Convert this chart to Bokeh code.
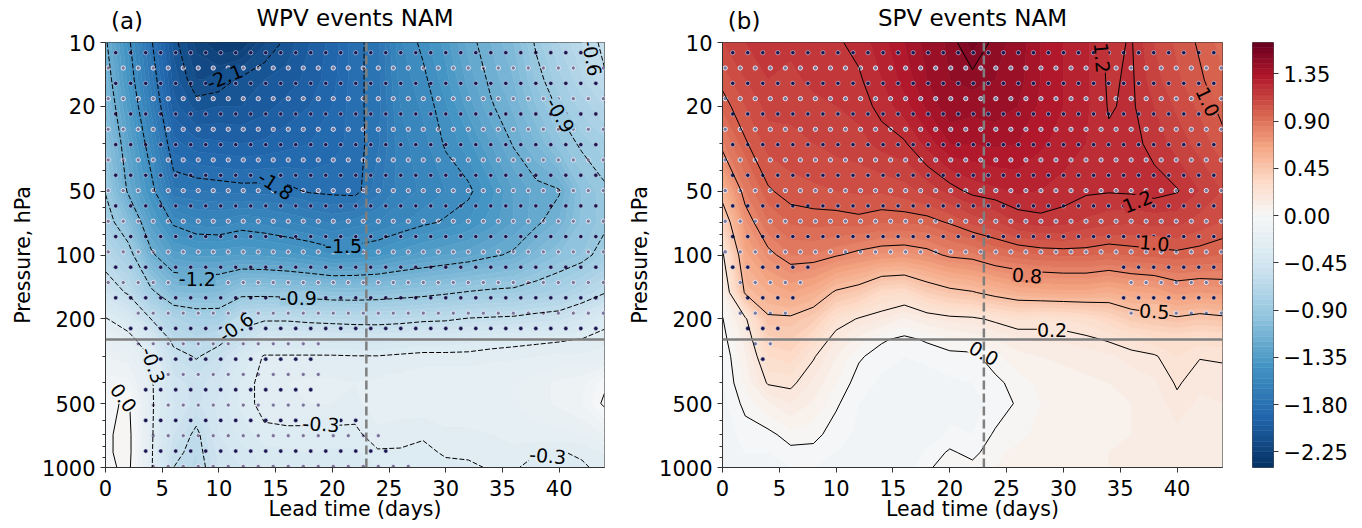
import numpy as np
from bokeh.plotting import figure
from bokeh.plotting.contour import contour_data
from bokeh.layouts import row
from bokeh.models import (Range1d, FixedTicker, CustomJSTickFormatter, Span,
                          LabelSet, ColumnDataSource, LinearAxis)
from bokeh.core.properties import value
from bokeh.embed import file_html
from bokeh.resources import INLINE

# ---------------------------------------------------------------- data
lead_days = [0, 2, 4, 6, 8, 10, 12, 14, 16, 18, 20, 22, 24, 26, 28, 30, 32, 34, 36, 38, 40, 42, 44]
pressure_hpa = [10, 15, 20, 30, 50, 70, 100, 150, 200, 250, 300, 400, 500, 700, 850, 1000]

# NAM composite for weak polar vortex events; one row per lead day, values from 10 hPa down to 1000 hPa
wpv_nam_by_lead = [
    [-1.18, -1.12, -1.07, -1.00, -0.91, -0.82, -0.68, -0.50, -0.29, -0.20, -0.15, -0.08, -0.03, -0.02, -0.02, -0.03],
    [-1.47, -1.42, -1.37, -1.29, -1.22, -1.03, -0.82, -0.62, -0.38, -0.25, -0.18, -0.08, 0.02, 0.04, 0.04, 0.03],
    [-1.78, -1.72, -1.66, -1.57, -1.45, -1.33, -1.17, -0.86, -0.60, -0.40, -0.31, -0.28, -0.28, -0.28, -0.28, -0.28],
    [-2.07, -2.02, -1.98, -1.88, -1.74, -1.52, -1.33, -1.05, -0.74, -0.64, -0.55, -0.48, -0.45, -0.50, -0.56, -0.60],
    [-2.22, -2.15, -2.07, -1.93, -1.75, -1.58, -1.36, -1.06, -0.80, -0.68, -0.61, -0.52, -0.52, -0.63, -0.65, -0.67],
    [-2.30, -2.14, -2.05, -1.94, -1.76, -1.59, -1.36, -1.05, -0.80, -0.63, -0.55, -0.47, -0.44, -0.45, -0.48, -0.50],
    [-2.30, -2.08, -2.05, -1.95, -1.77, -1.55, -1.35, -0.95, -0.64, -0.55, -0.40, -0.34, -0.34, -0.38, -0.42, -0.45],
    [-2.16, -2.05, -2.02, -1.94, -1.77, -1.57, -1.36, -0.95, -0.62, -0.42, -0.29, -0.27, -0.27, -0.32, -0.37, -0.40],
    [-2.08, -2.03, -1.98, -1.92, -1.78, -1.60, -1.38, -0.96, -0.62, -0.42, -0.29, -0.25, -0.25, -0.32, -0.36, -0.40],
    [-2.00, -1.98, -1.95, -1.90, -1.81, -1.63, -1.41, -0.98, -0.64, -0.42, -0.29, -0.24, -0.25, -0.32, -0.35, -0.38],
    [-1.93, -1.92, -1.90, -1.87, -1.82, -1.66, -1.45, -1.00, -0.65, -0.43, -0.29, -0.24, -0.25, -0.32, -0.36, -0.38],
    [-1.82, -1.82, -1.82, -1.83, -1.83, -1.63, -1.44, -1.00, -0.66, -0.44, -0.295, -0.25, -0.26, -0.32, -0.36, -0.38],
    [-1.77, -1.77, -1.77, -1.76, -1.72, -1.60, -1.42, -0.99, -0.66, -0.45, -0.295, -0.24, -0.23, -0.26, -0.31, -0.35],
    [-1.56, -1.58, -1.60, -1.62, -1.63, -1.56, -1.37, -0.97, -0.65, -0.43, -0.28, -0.23, -0.23, -0.27, -0.31, -0.34],
    [-1.48, -1.52, -1.54, -1.57, -1.59, -1.52, -1.33, -0.95, -0.63, -0.40, -0.27, -0.22, -0.22, -0.29, -0.32, -0.33],
    [-1.38, -1.42, -1.46, -1.49, -1.55, -1.49, -1.30, -0.92, -0.62, -0.40, -0.27, -0.22, -0.22, -0.26, -0.29, -0.32],
    [-1.23, -1.28, -1.33, -1.42, -1.52, -1.45, -1.27, -0.89, -0.59, -0.38, -0.27, -0.22, -0.22, -0.26, -0.29, -0.31],
    [-1.15, -1.18, -1.21, -1.30, -1.42, -1.38, -1.22, -0.87, -0.58, -0.35, -0.26, -0.21, -0.21, -0.25, -0.28, -0.295],
    [-1.05, -1.10, -1.14, -1.19, -1.30, -1.30, -1.18, -0.86, -0.57, -0.33, -0.26, -0.20, -0.20, -0.23, -0.27, -0.29],
    [-0.88, -0.94, -1.00, -1.10, -1.23, -1.22, -1.08, -0.82, -0.54, -0.32, -0.25, -0.17, -0.17, -0.22, -0.295, -0.33],
    [-0.75, -0.82, -0.88, -0.97, -1.21, -1.14, -1.00, -0.78, -0.52, -0.31, -0.24, -0.14, -0.14, -0.22, -0.305, -0.34],
    [-0.65, -0.71, -0.78, -0.88, -1.00, -0.99, -0.95, -0.70, -0.45, -0.295, -0.24, -0.12, -0.10, -0.20, -0.29, -0.31],
    [-0.58, -0.61, -0.70, -0.82, -0.92, -0.93, -0.84, -0.61, -0.34, -0.26, -0.24, -0.02, 0.02, -0.15, -0.25, -0.28],
]

# NAM composite for strong polar vortex events; one row per lead day, values from 10 hPa down to 1000 hPa
spv_nam_by_lead = [
    [1.10, 1.02, 0.97, 0.84, 0.57, 0.38, 0.18, 0.06, -0.005, -0.03, -0.05, -0.06, -0.07, -0.08, -0.08, -0.08],
    [1.15, 1.10, 1.05, 0.99, 0.85, 0.74, 0.63, 0.52, 0.18, 0.12, 0.09, 0.06, 0.02, -0.03, -0.05, -0.06],
    [1.18, 1.15, 1.12, 1.07, 0.99, 0.90, 0.77, 0.60, 0.48, 0.38, 0.30, 0.21, 0.09, -0.02, -0.05, -0.07],
    [1.16, 1.14, 1.12, 1.08, 1.03, 0.96, 0.85, 0.65, 0.48, 0.40, 0.33, 0.22, 0.15, 0.03, -0.02, -0.05],
    [1.18, 1.16, 1.14, 1.10, 1.04, 0.97, 0.85, 0.60, 0.42, 0.30, 0.21, 0.14, 0.09, 0.02, -0.02, -0.05],
    [1.19, 1.18, 1.15, 1.12, 1.05, 0.97, 0.81, 0.48, 0.26, 0.15, 0.10, 0.05, 0.01, -0.03, -0.05, -0.06],
    [1.22, 1.19, 1.17, 1.13, 1.06, 0.98, 0.77, 0.43, 0.19, 0.08, 0.01, -0.03, -0.05, -0.06, -0.07, -0.07],
    [1.28, 1.25, 1.22, 1.17, 1.06, 0.96, 0.74, 0.32, 0.15, 0.01, -0.03, -0.06, -0.07, -0.08, -0.08, -0.07],
    [1.35, 1.32, 1.28, 1.19, 1.08, 0.96, 0.73, 0.30, 0.09, -0.02, -0.05, -0.08, -0.09, -0.10, -0.09, -0.08],
    [1.42, 1.40, 1.36, 1.27, 1.12, 0.97, 0.76, 0.40, 0.14, 0.01, -0.04, -0.07, -0.08, -0.08, -0.04, -0.01],
    [1.46, 1.45, 1.44, 1.35, 1.17, 1.01, 0.82, 0.46, 0.17, 0.04, -0.02, -0.06, -0.07, -0.04, 0.01, 0.03],
    [1.58, 1.47, 1.42, 1.35, 1.22, 1.07, 0.84, 0.49, 0.18, 0.06, -0.02, -0.05, -0.06, -0.05, -0.02, 0.02],
    [1.47, 1.45, 1.43, 1.36, 1.24, 1.10, 0.90, 0.55, 0.22, 0.10, 0.04, -0.02, -0.04, 0.01, 0.04, 0.05],
    [1.43, 1.42, 1.40, 1.35, 1.26, 1.16, 0.93, 0.60, 0.26, 0.14, 0.08, 0.03, 0.01, 0.04, 0.06, 0.07],
    [1.35, 1.35, 1.34, 1.31, 1.25, 1.18, 0.95, 0.62, 0.24, 0.16, 0.10, 0.06, 0.05, 0.06, 0.07, 0.08],
    [1.30, 1.30, 1.30, 1.28, 1.23, 1.17, 0.96, 0.63, 0.25, 0.16, 0.11, 0.08, 0.07, 0.07, 0.08, 0.08],
    [1.26, 1.26, 1.26, 1.25, 1.21, 1.14, 0.96, 0.63, 0.28, 0.18, 0.12, 0.09, 0.08, 0.08, 0.09, 0.09],
    [1.185, 1.19, 1.195, 1.21, 1.205, 1.12, 0.94, 0.60, 0.34, 0.21, 0.14, 0.10, 0.09, 0.09, 0.10, 0.10],
    [1.205, 1.21, 1.21, 1.22, 1.21, 1.11, 0.96, 0.64, 0.42, 0.25, 0.17, 0.12, 0.10, 0.10, 0.11, 0.11],
    [1.10, 1.12, 1.15, 1.18, 1.225, 1.12, 0.97, 0.66, 0.45, 0.28, 0.19, 0.14, 0.12, 0.12, 0.12, 0.12],
    [1.04, 1.06, 1.09, 1.13, 1.205, 1.12, 0.98, 0.72, 0.48, 0.30, 0.25, 0.21, 0.18, 0.13, 0.12, 0.12],
    [0.99, 1.01, 1.04, 1.08, 1.15, 1.08, 0.97, 0.70, 0.45, 0.27, 0.205, 0.16, 0.14, 0.13, 0.13, 0.13],
    [0.93, 0.96, 0.98, 1.02, 1.10, 1.05, 0.95, 0.72, 0.47, 0.29, 0.21, 0.17, 0.15, 0.14, 0.14, 0.14],
]

# statistical significance (1 = significant); one row per pressure level, one column per lead day
wpv_signif_by_pressure = [
    [1, 1, 1, 1, 1, 1, 1, 1, 1, 1, 1, 1, 1, 1, 1, 1, 1, 1, 1, 1, 1, 1, 1],
    [1, 1, 1, 1, 1, 1, 1, 1, 1, 1, 1, 1, 1, 1, 1, 1, 1, 1, 1, 1, 1, 1, 1],
    [1, 1, 1, 1, 1, 1, 1, 1, 1, 1, 1, 1, 1, 1, 1, 1, 1, 1, 1, 1, 1, 1, 1],
    [1, 1, 1, 1, 1, 1, 1, 1, 1, 1, 1, 1, 1, 1, 1, 1, 1, 1, 1, 1, 1, 1, 1],
    [1, 1, 1, 1, 1, 1, 1, 1, 1, 1, 1, 1, 1, 1, 1, 1, 1, 1, 1, 1, 1, 1, 1],
    [1, 1, 1, 1, 1, 1, 1, 1, 1, 1, 1, 1, 1, 1, 1, 1, 1, 1, 1, 1, 1, 1, 1],
    [1, 1, 1, 1, 1, 1, 1, 1, 1, 1, 1, 1, 1, 1, 1, 1, 1, 1, 1, 1, 1, 1, 1],
    [0.3, 1, 1, 1, 1, 1, 1, 1, 1, 1, 1, 1, 1, 1, 1, 1, 1, 1, 1, 1, 1, 1, 1],
    [0, 0.4, 1, 1, 1, 1, 1, 1, 1, 1, 1, 1, 1, 1, 1, 1, 1, 1, 1, 1, 1, 1, 1],
    [0, 0.6, 1, 1, 1, 1, 1, 1, 1, 1, 0, 0, 0, 0, 0, 0, 0, 0, 0, 0, 0, 0, 0],
    [0, 0.3, 1, 1, 1, 1, 1, 1, 1, 1, 0, 0, 0, 0, 0, 0, 0, 0, 0, 0, 0, 0, 0],
    [0, 0, 1, 1, 1, 1, 1, 1, 1, 1, 0, 0, 0, 0, 0, 0, 0, 0, 0, 0, 0, 0, 0],
    [0, 0, 1, 1, 1, 1, 1, 1, 1, 1, 0, 0, 0, 0, 0, 0, 0, 0, 0, 0, 0, 0, 0],
    [0, 0, 1, 1, 1, 1, 1, 1, 1, 1, 1, 1, 0.6, 0, 0, 0, 0, 0, 0, 0, 0, 0, 0],
    [0, 0, 1, 1, 1, 1, 1, 1, 1, 1, 1, 1, 1, 0, 0, 0, 0, 0, 0, 0, 0, 0, 0],
    [0, 0, 1, 1, 1, 1, 1, 1, 1, 1, 1, 1, 1, 1, 0.5, 0, 0, 0, 0, 0, 0, 0, 0],
]
spv_signif_by_pressure = [
    [1, 1, 1, 1, 1, 1, 1, 1, 1, 1, 1, 1, 1, 1, 1, 1, 1, 1, 1, 1, 1, 1, 1],
    [1, 1, 1, 1, 1, 1, 1, 1, 1, 1, 1, 1, 1, 1, 1, 1, 1, 1, 1, 1, 1, 1, 1],
    [1, 1, 1, 1, 1, 1, 1, 1, 1, 1, 1, 1, 1, 1, 1, 1, 1, 1, 1, 1, 1, 1, 1],
    [1, 1, 1, 1, 1, 1, 1, 1, 1, 1, 1, 1, 1, 1, 1, 1, 1, 1, 1, 1, 1, 1, 1],
    [1, 1, 1, 1, 1, 1, 1, 1, 1, 1, 1, 1, 1, 1, 1, 1, 1, 1, 1, 1, 1, 1, 1],
    [1, 1, 1, 1, 1, 1, 1, 1, 1, 1, 1, 1, 1, 1, 1, 1, 1, 1, 1, 1, 1, 1, 1],
    [0.6, 1, 1, 1, 0.6, 0.6, 0.6, 0.6, 0.6, 0.6, 0.6, 0.6, 0.6, 0.6, 0.6, 0.6, 0.6, 0.6, 1, 1, 1, 1, 1],
    [0, 1, 1, 1, 0, 0, 0, 0, 0, 0, 0, 0, 0, 0, 0, 0, 0, 0, 1, 1, 1, 1, 1],
    [0, 0.6, 1, 0.3, 0, 0, 0, 0, 0, 0, 0, 0, 0, 0, 0, 0, 0, 0, 0.6, 0.6, 0.6, 0.6, 0.6],
    [0, 0.4, 1, 0, 0, 0, 0, 0, 0, 0, 0, 0, 0, 0, 0, 0, 0, 0, 0, 0, 0, 0, 0],
    [0, 0, 0.8, 0, 0, 0, 0, 0, 0, 0, 0, 0, 0, 0, 0, 0, 0, 0, 0, 0, 0, 0, 0],
    [0, 0, 0, 0, 0, 0, 0, 0, 0, 0, 0, 0, 0, 0, 0, 0, 0, 0, 0, 0, 0, 0, 0],
    [0, 0, 0, 0, 0, 0, 0, 0, 0, 0, 0, 0, 0, 0, 0, 0, 0, 0, 0, 0, 0, 0, 0],
    [0, 0, 0, 0, 0, 0, 0, 0, 0, 0, 0, 0, 0, 0, 0, 0, 0, 0, 0, 0, 0, 0, 0],
    [0, 0, 0, 0, 0, 0, 0, 0, 0, 0, 0, 0, 0, 0, 0, 0, 0, 0, 0, 0, 0, 0, 0],
    [0, 0, 0, 0, 0, 0, 0, 0, 0, 0, 0, 0, 0, 0, 0, 0, 0, 0, 0, 0, 0, 0, 0],
]

wpv_line_levels = [-2.1, -1.8, -1.5, -1.2, -0.9, -0.6, -0.3, 0.0]
spv_line_levels = [0.0, 0.2, 0.5, 0.8, 1.0, 1.2, 1.5]

# inline contour labels
wpv_label_lead = [10.5, 15.0, 21.0, 8.1, 17.0, 11.5, 4.2, 1.6, 19.0, 39.0, 42.9, 40.1]
wpv_label_hpa = [14.5, 47, 91, 129, 160, 218, 330, 470, 625, 880, 11.8, 22]
wpv_label_level = [-2.1, -1.8, -1.5, -1.2, -0.9, -0.6, -0.3, 0.0, -0.3, -0.3, -0.6, -0.9]
wpv_label_angle = [22, -33, 0, 0, 0, 35, -70, -53, -3, -5, -80, -60]

spv_label_lead = [33.4, 42.7, 36.5, 38.0, 26.8, 38.0, 29.0, 23.0]
spv_label_hpa = [11.8, 19, 56, 88, 125, 184, 225, 290]
spv_label_level = [1.2, 1.0, 1.2, 1.0, 0.8, 0.5, 0.2, 0.0]
spv_label_angle = [-85, -65, 22, -5, -4, -3, 0, -30]

panel_titles = ["WPV events NAM", "SPV events NAM"]
panel_tags = ["(a)", "(b)"]
lead_ticks = [0, 5, 10, 15, 20, 25, 30, 35, 40]
pressure_ticks = [10, 20, 50, 100, 200, 500, 1000]
pressure_minor_ticks = [30, 40, 60, 70, 80, 90, 300, 400, 600, 700, 800, 900]
colorbar_ticks = [-2.25, -1.80, -1.35, -0.90, -0.45, 0.00, 0.45, 0.90, 1.35]
event_day = 23
tropopause_hpa = 250

# ---------------------------------------------------------------- style
FONT = "DejaVu Sans"
RDBU_R = ["#053061", "#2166ac", "#4393c3", "#92c5de", "#d1e5f0", "#f7f7f7",
          "#fddbc7", "#f4a582", "#d6604d", "#b2182b", "#67001f"]
FILL_LO, FILL_HI, FILL_STEP = -2.40, 1.65, 0.05
fill_edges = np.round(np.arange(FILL_LO, FILL_HI + FILL_STEP / 2, FILL_STEP), 4)

STIP_DX = 1.323       # days between hatch dots along a row
STIP_DLOGP = 0.0721   # decades between hatch rows
STIP_LOGP0 = 1.048
STIP_X0 = 0.90
TAG_X = 1.9           # lead-day position where the panel tag is centred

FIG_H = 526
ANCH = np.array([[int(c[i:i + 2], 16) for i in (1, 3, 5)] for c in RDBU_R], float)


def cmap(t):
    t = min(max(t, 0.0), 1.0)
    pos = t * (len(RDBU_R) - 1)
    i = min(int(np.floor(pos)), len(RDBU_R) - 2)
    f = pos - i
    rgb = ANCH[i] * (1 - f) + ANCH[i + 1] * f
    return "#%02x%02x%02x" % tuple(int(round(c)) for c in rgb)


def color_of(v):
    if v < 0:
        t = 0.5 * (v - FILL_LO) / (0 - FILL_LO)
    else:
        t = 0.5 + 0.5 * v / FILL_HI
    return cmap(t)


def pow10(obj):
    if isinstance(obj, np.ndarray):
        return 10.0 ** obj
    return [pow10(o) for o in obj]


def stipple(sig_by_p):
    mask = np.array(sig_by_p, float)
    lead = np.array(lead_days, float)
    logp = np.log10(np.array(pressure_hpa, float))
    out = {"dark": ([], []), "light": ([], [])}
    r = 0
    lp = STIP_LOGP0
    while lp <= 3.0 + 1e-9:
        row_vals = np.array([np.interp(lp, logp, mask[:, j]) for j in range(mask.shape[1])])
        key = "dark" if r % 2 == 0 else "light"
        x = STIP_X0 if r % 2 == 0 else STIP_X0 - STIP_DX / 2
        while x <= 44.0:
            if np.interp(x, lead, row_vals) >= 0.5:
                out[key][0].append(x)
                out[key][1].append(10 ** lp)
            x += STIP_DX
        r += 1
        lp = STIP_LOGP0 + r * STIP_DLOGP
    return out


def make_panel(title, tag, by_lead, sig_by_p, line_levels, lab_x, lab_y, lab_lev, lab_ang,
               width, border_left, border_right):
    lead = np.array(lead_days, float)
    logp = np.log10(np.array(pressure_hpa, float))
    z = np.array(by_lead, float).T

    p = figure(width=width, height=FIG_H,
               x_range=Range1d(0, 44), y_range=Range1d(1000, 10), y_axis_type="log",
               output_backend="svg", toolbar_location=None,
               min_border_left=border_left, min_border_right=border_right,
               min_border_top=42, min_border_bottom=FIG_H - 42 - 429)
    p.xgrid.visible = False
    p.ygrid.visible = False
    p.background_fill_color = "white"
    p.border_fill_color = "white"
    p.outline_line_color = "#333333"
    p.outline_line_width = 1

    # filled contours
    fd = contour_data(lead, logp, z, levels=fill_edges, want_line=False).fill_data
    cols = [color_of(0.5 * (lo + hi)) for lo, hi in zip(fd.lower_levels, fd.upper_levels)]
    p.multi_polygons(xs=fd.xs, ys=pow10(fd.ys), fill_color=cols, line_color=cols, line_width=0.6)

    # significance stippling
    st = stipple(sig_by_p)
    p.scatter(st["light"][0], st["light"][1], marker="circle", size=4.3,
              fill_color="#78789c", line_color="#eeeef8", line_width=0.9)
    p.scatter(st["dark"][0], st["dark"][1], marker="circle", size=4.3,
              fill_color="#17164f", line_color="#d4d4ea", line_width=0.6)

    # contour lines
    ld = contour_data(lead, logp, z, levels=line_levels, want_fill=False).line_data
    neg_x, neg_y, pos_x, pos_y = [], [], [], []
    for lev, xs, ys in zip(ld.levels, ld.xs, ld.ys):
        xs = np.asarray(xs, float)
        ys = np.asarray(ys, float)
        if xs.size == 0:
            continue
        if lev < 0:
            neg_x.append(xs); neg_y.append(10.0 ** ys)
        else:
            pos_x.append(xs); pos_y.append(10.0 ** ys)
    if neg_x:
        p.multi_line(neg_x, neg_y, line_color="black", line_width=1.0, line_dash="5 2")
    if pos_x:
        p.multi_line(pos_x, pos_y, line_color="black", line_width=1.0)

    # inline labels
    src = ColumnDataSource(dict(x=lab_x, y=lab_y, text=[f"{v:.1f}" for v in lab_lev],
                                angle=lab_ang, bg=[color_of(v) for v in lab_lev]))
    p.add_layout(LabelSet(x="x", y="y", text="text", angle="angle", angle_units="deg",
                          source=src, text_align="center", text_baseline="middle",
                          text_font=value(FONT), text_font_size="19px", text_color="black",
                          background_fill_color="bg"))

    # reference lines
    p.add_layout(Span(location=event_day, dimension="height", line_color="#7f7f7f",
                      line_width=2.5, line_dash="9 4"))
    p.add_layout(Span(location=tropopause_hpa, dimension="width", line_color="#7f7f7f",
                      line_width=2.5))

    # heading row above the frame: panel tag (tick label) and centred title (axis label)
    head = LinearAxis(ticker=FixedTicker(ticks=[TAG_X]), major_label_overrides={TAG_X: tag},
                      axis_label=title)
    head.axis_line_color = None
    head.major_tick_line_color = None
    head.minor_tick_line_color = None
    head.major_tick_out = 0
    head.major_tick_in = 0
    head.minor_tick_out = 0
    head.minor_tick_in = 0
    head.major_label_text_font = FONT
    head.major_label_text_font_size = "23px"
    head.major_label_text_color = "black"
    head.major_label_standoff = 9
    head.axis_label_text_font = FONT
    head.axis_label_text_font_size = "23px"
    head.axis_label_text_font_style = "normal"
    head.axis_label_text_color = "black"
    head.axis_label_standoff = -26

    bottom = p.below[0]
    left = p.left[0]
    p.add_layout(head, "above")

    bottom.ticker = FixedTicker(ticks=lead_ticks)
    left.ticker = FixedTicker(ticks=pressure_ticks, minor_ticks=pressure_minor_ticks)
    left.formatter = CustomJSTickFormatter(code="return String(tick);")
    bottom.axis_label = "Lead time (days)"
    left.axis_label = "Pressure, hPa"
    for ax in (bottom, left):
        ax.major_label_text_font = FONT
        ax.major_label_text_font_size = "21px"
        ax.major_label_text_color = "black"
        ax.axis_label_text_font = FONT
        ax.axis_label_text_font_size = "20.5px"
        ax.axis_label_text_font_style = "normal"
        ax.axis_label_text_color = "black"
        ax.axis_line_color = "#333333"
        ax.major_tick_line_color = "#333333"
        ax.minor_tick_line_color = "#333333"
        ax.major_tick_out = 5
        ax.major_tick_in = 0
        ax.minor_tick_out = 3
        ax.minor_tick_in = 0
    bottom.major_label_standoff = 7
    bottom.axis_label_standoff = -2
    left.major_label_standoff = 5
    left.axis_label_standoff = 4
    return p


pa = make_panel(panel_titles[0], panel_tags[0], wpv_nam_by_lead, wpv_signif_by_pressure,
                wpv_line_levels, wpv_label_lead, wpv_label_hpa, wpv_label_level, wpv_label_angle,
                width=620, border_left=105, border_right=16)
pb = make_panel(panel_titles[1], panel_tags[1], spv_nam_by_lead, spv_signif_by_pressure,
                spv_line_levels, spv_label_lead, spv_label_hpa, spv_label_level, spv_label_angle,
                width=614, border_left=102, border_right=12)

# colour bar
cb = figure(width=126, height=FIG_H, x_range=Range1d(0, 1),
            y_range=Range1d(float(fill_edges[0]), float(fill_edges[-1])),
            output_backend="svg", toolbar_location=None,
            min_border_left=18, min_border_right=87, min_border_top=42,
            min_border_bottom=FIG_H - 42 - 425,
            x_axis_location=None, y_axis_location="right")
cb.xgrid.visible = False
cb.ygrid.visible = False
band_cols = [color_of(0.5 * (a + b)) for a, b in zip(fill_edges[:-1], fill_edges[1:])]
cb.quad(left=0, right=1, bottom=fill_edges[:-1], top=fill_edges[1:],
        fill_color=band_cols, line_color=band_cols, line_width=0.5)
cb.outline_line_color = "#555555"
cb.outline_line_width = 1
cb.yaxis.ticker = FixedTicker(ticks=colorbar_ticks)
cb.yaxis.formatter = CustomJSTickFormatter(code="return tick.toFixed(2).replace('-', '\u2212');")
cb.yaxis.major_label_text_font = FONT
cb.yaxis.major_label_text_font_size = "21px"
cb.yaxis.major_label_text_color = "black"
cb.yaxis.axis_line_color = None
cb.yaxis.major_tick_line_color = "#333333"
cb.yaxis.major_tick_out = 5
cb.yaxis.major_tick_in = 0
cb.yaxis.minor_tick_line_color = None
cb.yaxis.major_label_standoff = 5

layout = row(pa, pb, cb)
open("out.html", "w").write(file_html(layout, INLINE, title="NAM composites"))
